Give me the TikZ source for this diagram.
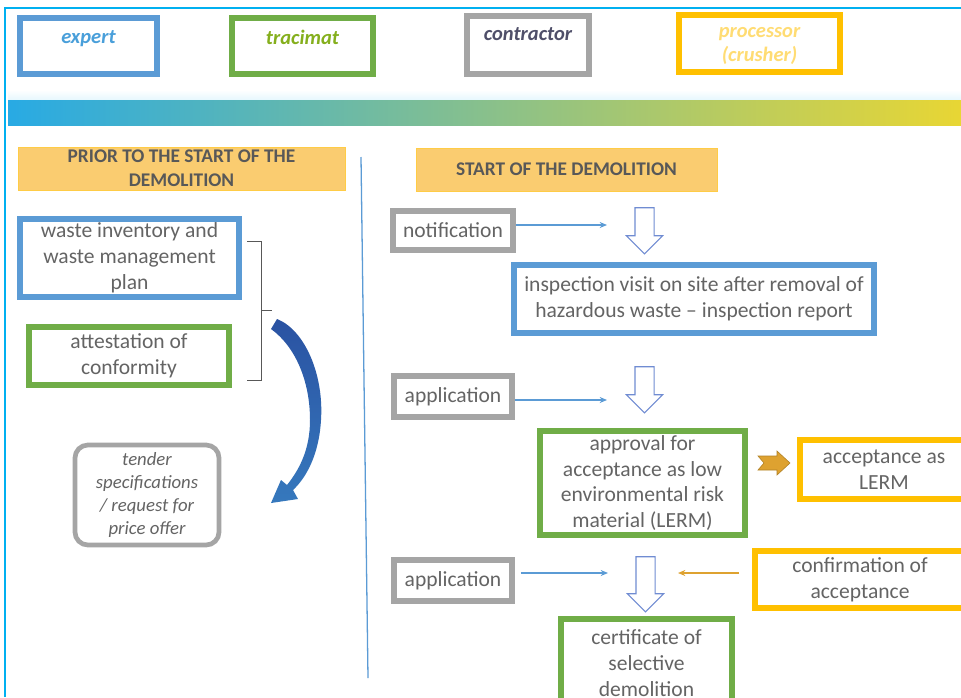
\documentclass[tikz,border=0pt]{standalone}
\usepackage{fontspec}
\setmainfont{Carlito}
\usetikzlibrary{arrows.meta,positioning,shapes.arrows,calc}
\definecolor{sky}{RGB}{0,176,240}
\definecolor{expblue}{RGB}{91,155,213}
\definecolor{tragreen}{RGB}{112,173,71}
\definecolor{congray}{RGB}{165,165,165}
\definecolor{proyellow}{RGB}{255,192,0}
\definecolor{ink}{RGB}{100,100,100}
\definecolor{headink}{RGB}{88,88,88}
\definecolor{headfill}{RGB}{250,204,112}
\definecolor{headline}{RGB}{255,204,70}
\definecolor{gold}{RGB}{222,162,48}
\definecolor{hollow}{RGB}{112,140,210}
\definecolor{navy}{RGB}{42,82,162}
\definecolor{bandblue}{RGB}{40,170,228}
\definecolor{bandgreen}{RGB}{148,194,32}
\definecolor{bandyellow}{RGB}{232,214,52}
\newcommand{\pxl}{0.03cm}
\tikzset{
  x=0.03cm,y=-0.03cm,
  >={Stealth[length=2.2mm,width=1.8mm]},
  legend/.style={draw=#1,line width=5pt,fill=white,inner sep=0pt},
  tagtext/.style={font=\fontsize{17.5}{20}\selectfont\bfseries\itshape,text=#1,align=center},
  box/.style={draw=#1,line width=5pt,fill=white,text=ink,align=center,
    font=\fontsize{18.4}{22}\selectfont,inner sep=0pt},
  box/.default=expblue,
  head/.style={draw=headline,fill=headfill,line width=0.8pt,text=headink,align=center,
    font=\fontsize{16.5}{20.5}\selectfont\bfseries,inner sep=0pt},
  down/.style={single arrow,draw=hollow,fill=white,line width=0.9pt,shape border rotate=270,
    minimum height=46*\pxl,inner sep=9*\pxl,single arrow head extend=8.5*\pxl},
  flow/.style={->,line width=1.4pt,draw=#1},
  flow/.default=expblue,
}

\begin{document}
\begin{tikzpicture}
  \useasboundingbox (0,0) rectangle (961,697);
  \clip (0,0) rectangle (961,697);
  \fill[white] (0,0) rectangle (961,697);
  \draw[sky,line width=2pt] (5,697) -- (5,8) -- (961,8);

  % legend
  \foreach \cx/\cy/\w/\h/\c/\tc/\ty/\t [count=\i] in {
    88.5/46/137/56/expblue/expblue!80!sky/39/expert,
    302.5/46/141/56/tragreen/bandgreen!90!black/37/tracimat,
    528/45/122/58/congray/headink!90!blue/34/contractor,
    759.5/43.5/161/57/proyellow/proyellow!55/46/processor\\(crusher)}
  {
    \node[legend=\c,minimum width=\w*\pxl,minimum height=\h*\pxl] (lg\i) at (\cx,\cy) {};
    \node[tagtext=\tc] (lgt\i) at (\cx,\ty) {\t};
  }
  \shade[top color=white,bottom color=white!90!sky] (8,90) rectangle (961,100);
  \shade[left color=bandblue,middle color=bandgreen,right color=bandyellow] (8,100) rectangle (961,125);

  % headers and divider
  \node[head,minimum width=327*\pxl,minimum height=43*\pxl] (prior) at (181.5,168.5)
    {PRIOR TO THE START OF THE\\DEMOLITION};
  \node[head,minimum width=301*\pxl,minimum height=43*\pxl] (start) at (566.5,169.5)
    {START OF THE DEMOLITION};
  \draw[expblue,line width=1.1pt] (361,157) -- (368,678);

  % before the demolition
  \node[box=expblue,minimum width=219*\pxl,minimum height=78*\pxl] (waste) at (129.5,258)
    {waste inventory and\\waste management\\plan};
  \node[box=tragreen,minimum width=200*\pxl,minimum height=58*\pxl] (attest) at (129,356)
    {attestation of\\conformity};
  \node[draw=congray,line width=4pt,fill=white,rounded corners=11pt,text=ink,align=center,
    minimum width=144*\pxl,minimum height=100*\pxl,inner sep=0pt,
    font=\fontsize{16}{19.6}\selectfont\itshape] (tender) at (147,495)
    {tender\\specifications\\/ request for\\price offer};
  \draw[headink,line width=0.8pt] (247,241) -- (261,241) -- (261,380) -- (247,380)
    (261,310) -- (272,310);
  \shade[top color=navy,bottom color=navy!75!sky!90!white]
    (277,319) .. controls (305,330) and (324,375) .. (321,420)
    .. controls (319,455) and (306,478) .. (293,490)
    -- (298,499) -- (271,503) -- (281,480) -- (287,485)
    .. controls (299,470) and (310,450) .. (310,420)
    .. controls (310,382) and (296,347) .. (271,329) -- cycle;

  % start of the demolition
  \node[box=congray,minimum width=120*\pxl,minimum height=39*\pxl] (notif) at (453,230.5) {notification};
  \node[down] (down1) at (644.5,226) {};
  \node[box=expblue,minimum width=360*\pxl,minimum height=68*\pxl] (inspect) at (694,299)
    {inspection visit on site after removal of\\hazardous waste -- inspection report};
  \node[box=congray,minimum width=118*\pxl,minimum height=41*\pxl] (appl1) at (453,396.5) {application};
  \node[down] (down2) at (644.5,385) {};
  \node[box=tragreen,minimum width=205*\pxl,minimum height=104*\pxl] (approval) at (642.5,483)
    {approval for\\acceptance as low\\environmental risk\\material (LERM)};
  \node[box=proyellow,minimum width=168*\pxl,minimum height=59*\pxl] (lerm) at (884,469.5)
    {acceptance as\\LERM};
  \node[box=congray,minimum width=118*\pxl,minimum height=41*\pxl] (appl2) at (453,580.5) {application};
  \node[down,minimum height=55*\pxl] (down3) at (645.5,579.5) {};
  \node[box=proyellow,minimum width=210*\pxl,minimum height=57*\pxl] (confirm) at (860,579.5)
    {confirmation of\\acceptance};
  \node[box=tragreen,minimum width=171*\pxl,minimum height=88*\pxl] (cert) at (646.5,663)
    {certificate of\\selective\\demolition};

  \coordinate (c1) at (607,225);
  \coordinate (c2) at (607,400);
  \coordinate (c3) at (608,573);
  \coordinate (c4) at (678,573);
  \draw[flow] (notif.east |- c1) -- (c1);
  \draw[flow] (appl1.east |- c2) -- (c2);
  \draw[flow] ([xshift=6*\pxl]appl2.east |- c3) -- (c3);
  \draw[flow=gold] ([xshift=-13*\pxl]confirm.west |- c4) -- (c4);
  \coordinate (ga) at (758,463);
  \filldraw[fill=gold,draw=gold!80!black,line width=0.5pt] (ga) ++(0,-7) -- ++(19,0) -- ++(0,-5)
    -- ++(13,12) -- ++(-13,12) -- ++(0,-5) -- ++(-19,0) -- ++(6,-7) -- cycle;
\end{tikzpicture}
\end{document}
